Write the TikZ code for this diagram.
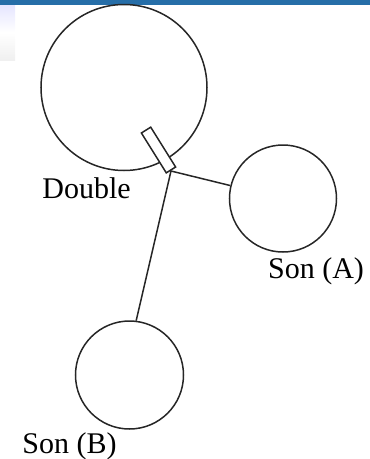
\documentclass[tikz,border=0pt]{standalone}
\usepackage{fontspec}
\setmainfont{Liberation Serif}
\usepackage{tikz}
\usetikzlibrary{calc,positioning}

\begin{document}
\begin{tikzpicture}[x=1pt,y=-1pt,line width=1.5pt,
      ball/.style={draw=black!85,circle,inner sep=0pt},
      lbl/.style={anchor=base,inner sep=0pt,font=\fontsize{30}{32}\selectfont}]
    \useasboundingbox (0,0) rectangle (370,459);
    % window edge of the screenshot
    \fill[blue!45!cyan!60!black!85] (0,0) rectangle (370,5);
    \shade[top color=blue!10,bottom color=gray!12,middle color=white] (0,5) rectangle (15,60);
    % bodies
    \node[ball,minimum size=166pt] (dbl) at (124,87.5) {};
    \node[ball,minimum size=107pt] (sonA) at (283,198.5) {};
    \node[ball,minimum size=108pt] (sonB) at (129.5,375) {};
    \coordinate (jn) at (171,171);
    % tethers
    \draw[black!85] (sonA) -- (jn);
    \draw[black!85] (sonB.83) -- (jn);
    \node[draw=black!85,fill=white,rotate=-58,minimum width=47pt,minimum height=11pt,
          inner sep=0pt] (hk) at (158.5,150) {};
    % labels
    \node[lbl] (ldbl) at (86.5,198) {Double};
    \node[lbl] (lsonA) at (316,278) {Son (A)};
    \node[lbl] (lsonB) at (69.5,453) {Son (B)};
  \end{tikzpicture}
\end{document}
